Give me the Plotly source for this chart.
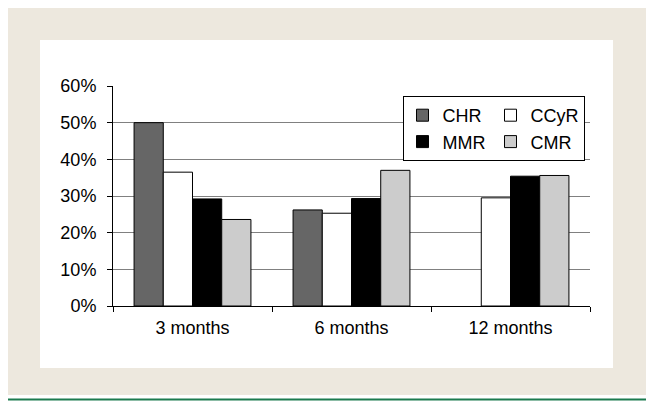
import plotly.graph_objects as go

categories = ["3 months", "6 months", "12 months"]
series_names = ["CHR", "CCyR", "MMR", "CMR"]
chr_vals = [0.50, 0.262, None]
ccyr_vals = [0.365, 0.253, 0.295]
mmr_vals = [0.292, 0.293, 0.354]
cmr_vals = [0.236, 0.370, 0.356]
y_ticks = [0, 0.1, 0.2, 0.3, 0.4, 0.5, 0.6]

colors = ["#666666", "#ffffff", "#000000", "#cccccc"]
groups = ["a", "b", "a", "b"]
values = [chr_vals, ccyr_vals, mmr_vals, cmr_vals]

FONT = "Liberation Sans, Arial, Helvetica, sans-serif"

fig = go.Figure()
for name, vals, col, grp in zip(series_names, values, colors, groups):
    fig.add_trace(go.Bar(
        x=categories, y=vals, name=name, legendgroup=grp,
        marker=dict(color=col, line=dict(color="#000000", width=1)),
    ))

OFF = 8  # browser body margin
W, H = 654 - OFF, 409 - OFF
# plot area in page pixels
L, R, T, B = 113, 590, 86, 306
pw, ph = R - L, B - T

def px(x):
    return (x - L) / pw

def py(y):
    return (B - y) / ph

shapes = [
    dict(type="rect", xref="paper", yref="paper", x0=px(7), x1=px(647), y0=py(395), y1=py(7),
         fillcolor="#ede8de", line=dict(width=0), layer="below"),
    dict(type="rect", xref="paper", yref="paper", x0=px(40), x1=px(613), y0=py(368), y1=py(40),
         fillcolor="#ffffff", line=dict(width=0), layer="below"),
    dict(type="line", xref="paper", yref="paper", x0=px(7), x1=px(647), y0=py(399.5), y1=py(399.5),
         line=dict(color="#1b7a4e", width=2), layer="below"),
]

fig.update_layout(
    width=W, height=H,
    margin=dict(l=L - OFF, r=654 - R, t=T - OFF, b=409 - B, pad=0),
    paper_bgcolor="#ffffff", plot_bgcolor="rgba(0,0,0,0)",
    font=dict(family=FONT, size=18, color="#000000"),
    barmode="group", bargap=0.265, bargroupgap=0,
    shapes=shapes,
    showlegend=True,
    legend=dict(
        orientation="h", traceorder="grouped", tracegroupgap=0,
        x=px(493.5), y=py(96), xanchor="center", yanchor="top",
        bgcolor="#ffffff", bordercolor="#000000", borderwidth=1,
        font=dict(family=FONT, size=18, color="#000000"),
    ),
    xaxis=dict(
        showline=True, linecolor="#000000", linewidth=1,
        ticks="outside", tickson="boundaries", ticklen=5, tickcolor="#000000",
        showgrid=False, tickfont=dict(size=18), ticklabelstandoff=5,
    ),
    yaxis=dict(
        range=[0, 0.6], tickvals=y_ticks, tickformat=".0%",
        showline=True, linecolor="#000000", linewidth=1,
        ticks="outside", ticklen=5, tickcolor="#000000",
        showgrid=True, gridcolor="#808080", gridwidth=1, zeroline=False,
        tickfont=dict(size=18), ticklabelstandoff=7,
    ),
)

fig.write_html("out.html")
